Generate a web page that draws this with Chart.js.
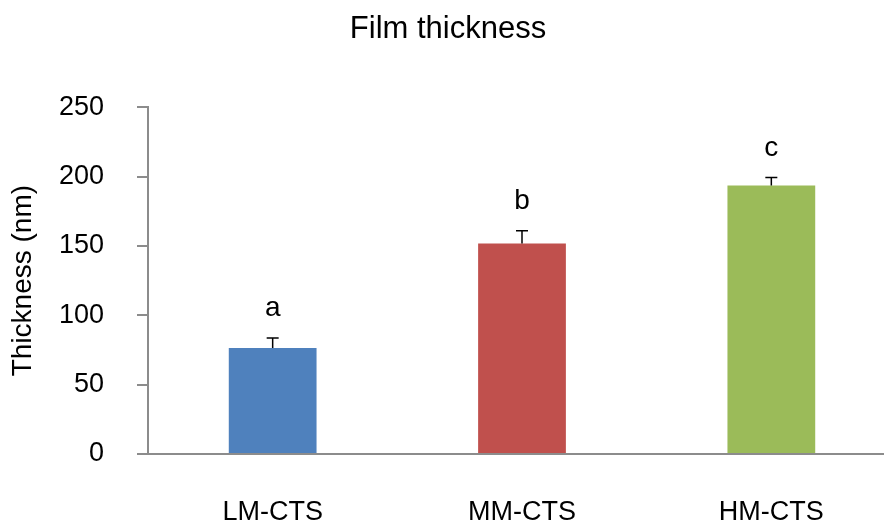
<!DOCTYPE html>
<html>
<head>
<meta charset="utf-8">
<script src="https://cdn.jsdelivr.net/npm/chart.js@4/dist/chart.umd.min.js"></script>
<style>
html,body{margin:0;padding:0;background:#fff;overflow:hidden;width:884px;height:522px;}
#wrap{width:896px;height:522px;}
</style>
</head>
<body>
<div id="wrap"><canvas id="c" width="896" height="522"></canvas></div>
<script>
const categories = ["LM-CTS", "MM-CTS", "HM-CTS"];
const thickness = [76.4, 151.8, 193.6];
const errors = [7.2, 9.1, 5.7];
const groupLetters = ["a", "b", "c"];
const barColors = ["#4F81BD", "#C0504D", "#9BBB59"];
const yTicks = [0, 50, 100, 150, 200, 250];

const FONT = "'Liberation Sans', Arial, Helvetica, sans-serif";

const errorBarPlugin = {
  id: 'errorBars',
  afterDatasetsDraw(chart) {
    const ctx = chart.ctx;
    const meta = chart.getDatasetMeta(0);
    const y = chart.scales.y;
    ctx.save();
    meta.data.forEach((bar, i) => {
      const x = bar.x;
      const yTop = y.getPixelForValue(thickness[i] + errors[i]);
      const yVal = y.getPixelForValue(thickness[i]);
      ctx.strokeStyle = '#000';
      ctx.lineWidth = 1.5;
      ctx.beginPath();
      ctx.moveTo(x, yVal);
      ctx.lineTo(x, yTop);
      ctx.moveTo(x - 6, yTop);
      ctx.lineTo(x + 6, yTop);
      ctx.stroke();
      ctx.fillStyle = '#000';
      ctx.font = '28px ' + FONT;
      ctx.textAlign = 'center';
      ctx.textBaseline = 'alphabetic';
      ctx.fillText(groupLetters[i], x, yTop - 22);
    });
    ctx.restore();
  }
};

new Chart(document.getElementById('c'), {
  type: 'bar',
  data: {
    labels: categories,
    datasets: [{
      data: thickness,
      backgroundColor: barColors,
      borderWidth: 0,
      categoryPercentage: 1,
      barPercentage: 0.352
    }]
  },
  options: {
    responsive: false,
    animation: false,
    layout: { padding: { left: 0, right: 0, top: 0, bottom: 0 } },
    plugins: {
      legend: { display: false },
      tooltip: { enabled: false },
      title: {
        display: true,
        text: 'Film thickness',
        color: '#000',
        font: { family: FONT, size: 31, weight: 'normal', lineHeight: 1.2 },
        padding: { top: 11, bottom: 59 }
      }
    },
    scales: {
      x: {
        grid: { display: false },
        border: { display: true, color: '#8c8c8c', width: 2 },
        afterFit(scale) { scale.height = 68; },
        ticks: {
          color: '#000',
          padding: 37,
          font: { family: FONT, size: 27, lineHeight: 1 }
        }
      },
      y: {
        min: 0,
        max: 250,
        afterBuildTicks(scale) { scale.ticks = yTicks.map(v => ({ value: v })); },
        afterFit(scale) { scale.width = 148; },
        grid: {
          drawOnChartArea: false,
          drawTicks: true,
          tickLength: 11,
          color: '#8c8c8c',
          lineWidth: 2
        },
        border: { display: true, color: '#8c8c8c', width: 2 },
        ticks: {
          color: '#000',
          padding: 33,
          font: { family: FONT, size: 27, lineHeight: 1.2 }
        },
        title: {
          display: true,
          text: 'Thickness (nm)',
          color: '#000',
          font: { family: FONT, size: 28, lineHeight: 1.2 },
          padding: { top: 6, bottom: 0 }
        }
      }
    }
  },
  plugins: [errorBarPlugin]
});
</script>
</body>
</html>
